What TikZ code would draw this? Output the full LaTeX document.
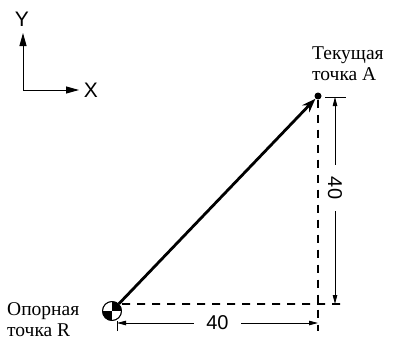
\documentclass[tikz,border=0pt]{standalone}
\usepackage{fontspec}
\setmainfont{Liberation Serif}
\setsansfont{Liberation Sans}
\usetikzlibrary{arrows.meta,positioning,calc}

\begin{document}
\begin{tikzpicture}[
  x=1pt, y=-1pt,
  axarr/.style  = {line width=1pt, -{Triangle[length=13pt,width=7pt]}},
  vecarr/.style = {line width=2.8pt, -{Stealth[length=14pt,width=10pt]}},
  dimarr/.style = {line width=0.9pt, {Triangle[length=9pt,width=4.5pt]}-{Triangle[length=9pt,width=4.5pt]}},
  dashln/.style = {line width=1.8pt, dash pattern=on 8pt off 7pt},
  extln/.style  = {line width=1pt},
  ptlbl/.style  = {font=\fontsize{19.5}{21}\selectfont, align=left, inner sep=0pt, anchor=west},
  axlbl/.style  = {font=\sffamily\fontsize{21}{21}\selectfont, inner sep=0pt},
  dimlbl/.style = {font=\sffamily\fontsize{20}{20}\selectfont, fill=white, inner sep=5pt}
]
  \useasboundingbox (0,0) rectangle (394,340);

  % coordinate axes
  \coordinate (O) at (23,90);
  \node[axlbl] (ylbl) at (22,19) {Y};
  \node[axlbl] (xlbl) at (91,90) {X};
  \draw[axarr] (O) -- (23,33);
  \draw[axarr] (O) -- (79,90);

  % points
  \node[circle, draw, line width=0.8pt, minimum size=19pt, inner sep=0pt] (R) at (112,311) {};
  \begin{scope}
    \clip (R.center) circle (9.5pt);
    \fill (R.center) rectangle ++(10,-10);
    \fill (R.center) rectangle ++(-10,10);
  \end{scope}
  \draw[line width=0.8pt] (R.center) circle (9.5pt);
  \node[circle, fill, minimum size=7pt, inner sep=0pt] (A) at (318,96) {};

  \node[ptlbl] (Albl) at (312,64) {Текущая\\точка A};
  \node[ptlbl] (Rlbl) at (7,320) {Опорная\\точка R};

  % reference lines
  \coordinate (hd) at (342,304);
  \coordinate (vd) at (318,331);
  \draw[dashln] (R.north east) ++(3,0) coordinate (hs) -- (hd);
  \draw[dashln] (A) -- (vd);
  \coordinate (xa) at (117,331);
  \draw[extln] (xa) -- (R.south -| xa);
  \coordinate (tl) at (325,97);
  \coordinate (tr) at (346,97);
  \draw[extln] (tl) -- (tr);

  % dimensions
  \coordinate (h1) at (117,323);
  \coordinate (h2) at (318,323);
  \draw[dimarr] (h1) -- node[dimlbl, inner xsep=12pt] {40} (h2);
  \coordinate (v1) at (335,97);
  \coordinate (v2) at (335,304);
  \draw[dimarr] (v1) -- node[dimlbl, rotate=-90, inner xsep=12pt, pos=0.44] {40} (v2);

  % vector R -> A
  \draw[vecarr] (R) -- (A);
\end{tikzpicture}
\end{document}
